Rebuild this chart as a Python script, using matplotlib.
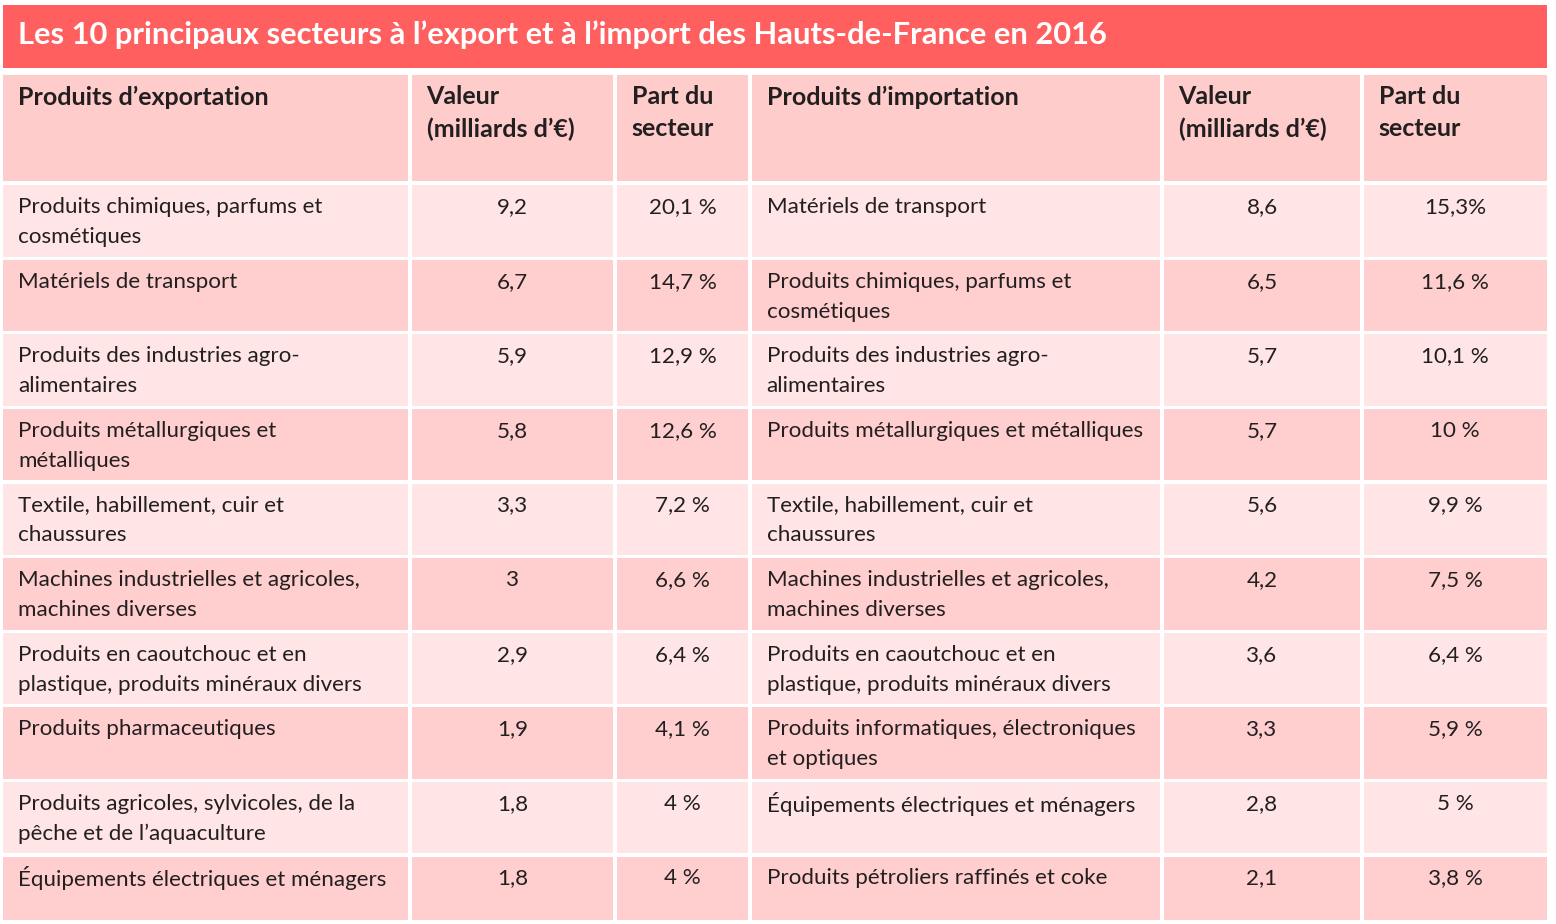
import matplotlib.pyplot as plt
from matplotlib.patches import Rectangle

# data
title = "Les 10 principaux secteurs à l’export et à l’import des Hauts-de-France en 2016"
headers = ["Produits d’exportation", "Valeur\n(milliards d’€)", "Part du\nsecteur",
           "Produits d’importation", "Valeur\n(milliards d’€)", "Part du\nsecteur"]

export_products = [
    "Produits chimiques, parfums et\ncosmétiques",
    "Matériels de transport",
    "Produits des industries agro-\nalimentaires",
    "Produits métallurgiques et\nmétalliques",
    "Textile, habillement, cuir et\nchaussures",
    "Machines industrielles et agricoles,\nmachines diverses",
    "Produits en caoutchouc et en\nplastique, produits minéraux divers",
    "Produits pharmaceutiques",
    "Produits agricoles, sylvicoles, de la\npêche et de l’aquaculture",
    "Équipements électriques et ménagers",
]
export_values = [9.2, 6.7, 5.9, 5.8, 3.3, 3, 2.9, 1.9, 1.8, 1.8]
export_shares = ["20,1 %", "14,7 %", "12,9 %", "12,6 %", "7,2 %", "6,6 %", "6,4 %", "4,1 %", "4 %", "4 %"]

import_products = [
    "Matériels de transport",
    "Produits chimiques, parfums et\ncosmétiques",
    "Produits des industries agro-\nalimentaires",
    "Produits métallurgiques et métalliques",
    "Textile, habillement, cuir et\nchaussures",
    "Machines industrielles et agricoles,\nmachines diverses",
    "Produits en caoutchouc et en\nplastique, produits minéraux divers",
    "Produits informatiques, électroniques\net optiques",
    "Équipements électriques et ménagers",
    "Produits pétroliers raffinés et coke",
]
import_values = [8.6, 6.5, 5.7, 5.7, 5.6, 4.2, 3.6, 3.3, 2.8, 2.1]
import_shares = ["15,3%", "11,6 %", "10,1 %", "10 %", "9,9 %", "7,5 %", "6,4 %", "5,9 %", "5 %", "3,8 %"]


def fr(v):
    return f"{v:g}".replace(".", ",")


plt.rcParams['font.family'] = ['Lato', 'DejaVu Sans']
txt_color = "#231f20"

fig = plt.figure(figsize=(15.56, 9.24), dpi=100)
ax = fig.add_axes([0, 0, 1, 1])
ax.set_xlim(0, 1556)
ax.set_ylim(924, 0)
ax.axis("off")

# layout
col_edges = [3, 410, 615, 750, 1162, 1362, 1547]
gap = 1.6
head_top, head_bot = 75, 182.5
row_h = 74.6
body_top = 183.5

# title bar
ax.add_patch(Rectangle((3, 5), 1544, 63, color="#ff5f5f", lw=0))
ax.text(18, 35, title, color="white", fontsize=22.2, fontweight="bold", va="center", ha="left")

# header row
for c in range(6):
    x0, x1 = col_edges[c] + gap, col_edges[c + 1] - gap
    if c == 5:
        x1 = col_edges[c + 1]
    if c == 0:
        x0 = col_edges[0]
    ax.add_patch(Rectangle((x0, head_top), x1 - x0, head_bot - head_top - gap, color="#ffcccc", lw=0))
    for k, line in enumerate(headers[c].split("\n")):
        ax.text(x0 + 15, 97 + k * 32, line, color=txt_color, fontsize=18, fontweight="bold",
                va="center", ha="left")

# body rows
for i in range(len(export_products)):
    top = body_top + i * row_h
    fill = "#ffe5e5" if i % 2 == 0 else "#ffcfcf"
    cells = [export_products[i], fr(export_values[i]), export_shares[i],
             import_products[i], fr(import_values[i]), import_shares[i]]
    for c in range(6):
        x0, x1 = col_edges[c] + gap, col_edges[c + 1] - gap
        if c == 5:
            x1 = col_edges[c + 1]
        if c == 0:
            x0 = col_edges[0]
        h = row_h - 2 * gap if i < 9 else 920 - top - gap
        ax.add_patch(Rectangle((x0, top + gap), x1 - x0, h, color=fill, lw=0))
        if c in (0, 3):
            for k, line in enumerate(cells[c].split("\n")):
                ax.text(x0 + 15, top + 23.5 + k * 30, line, color=txt_color, fontsize=16.1,
                        va="center", ha="left")
        else:
            ax.text((x0 + x1) / 2, top + 23.5, cells[c], color=txt_color, fontsize=16.1,
                    va="center", ha="center")

fig.savefig("out.png", dpi=100, facecolor="white")
